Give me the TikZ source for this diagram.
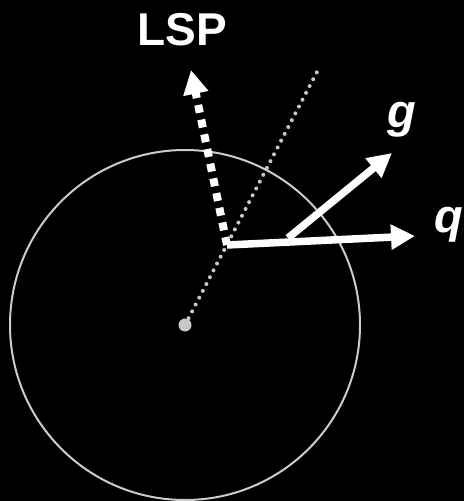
\documentclass[tikz,border=0pt]{standalone}
\usepackage{fontspec}
\setmainfont{Liberation Sans}
\usetikzlibrary{arrows.meta}
\definecolor{ringgray}{HTML}{CCCCCC}
\definecolor{dotgray}{HTML}{C8C8C8}
\tikzset{
  vec/.style={draw=white, line width=7.5pt, -{Triangle[length=24pt,width=24pt]}},
  lspvec/.style={draw=white, line width=8pt, dash pattern=on 8pt off 7pt, -{Triangle[length=24pt,width=24pt]}},
  radial/.style={draw=dotgray, line width=4pt, line cap=round, dash pattern=on 0pt off 7.7pt},
  ring/.style={draw=ringgray, line width=2pt},
  lbl/.style={text=white, inner sep=0pt, font=\fontsize{46}{46}\selectfont\bfseries},
  ilbl/.style={text=white, inner sep=0pt, font=\fontsize{47}{47}\selectfont\bfseries\itshape}
}
\begin{document}
\begin{tikzpicture}[x=1pt,y=-1pt]
\fill[black] (0,0) rectangle (464,501);
\useasboundingbox (0,0) rectangle (464,501);
\coordinate (o) at (185,325);
\coordinate (p) at (227,245);
\coordinate (far) at (318,70);
\coordinate (lsptip) at (191,70);
\coordinate (qtip) at (415,236);
\coordinate (gbase) at (288,238);
\coordinate (gtip) at (392,153);
\draw[ring] (o) circle[radius=175];
\draw[radial] (o) -- (far);
\fill[dotgray] (o) circle[radius=6.5];
\draw[vec] (gbase) -- (gtip);
\draw[vec] (p) -- (qtip);
\draw[lspvec] (p) -- (lsptip);
\node[lbl, anchor=base] (lsp) at (182.5,45) {LSP};
\node[ilbl, anchor=base] (g) at (402,127) {g};
\node[ilbl, anchor=base west] (q) at (434,232) {q};
\end{tikzpicture}
\end{document}
